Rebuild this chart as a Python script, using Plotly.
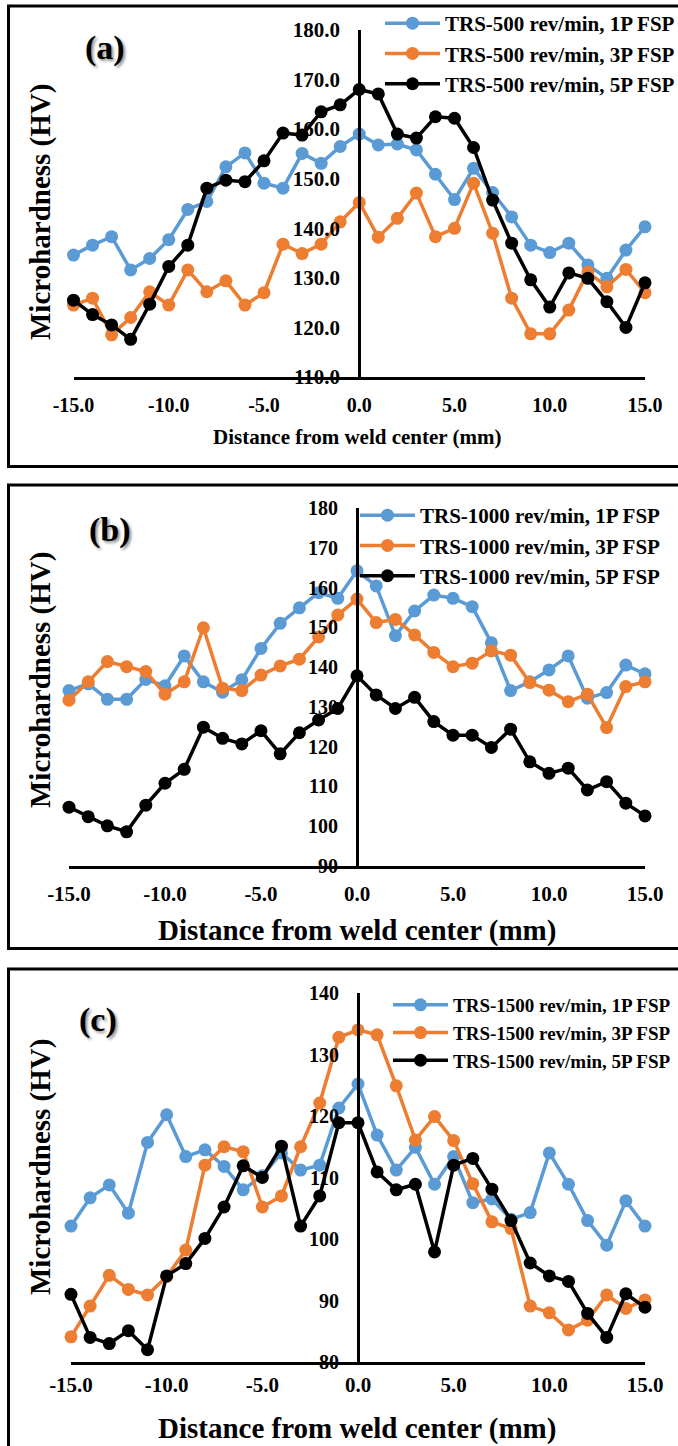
import plotly.graph_objects as go

W, H = 678, 1446

# ---------------- data ----------------
X_MM = [-15, -14, -13, -12, -11, -10, -9, -8, -7, -6, -5, -4, -3, -2, -1,
        0, 1, 2, 3, 4, 5, 6, 7, 8, 9, 10, 11, 12, 13, 14, 15]

A_1P = [134.6, 136.6, 138.3, 131.6, 133.9, 137.7, 143.8, 145.4, 152.4, 155.2, 149.1, 148.1, 155.1, 153.1, 156.5,
        159.0, 156.8, 157.0, 155.8, 150.9, 145.8, 152.1, 147.2, 142.3, 136.6, 135.1, 137.0, 132.6, 129.9, 135.6, 140.3]
A_3P = [124.5, 125.9, 118.5, 122.0, 127.2, 124.5, 131.6, 127.2, 129.4, 124.5, 127.0, 136.8, 134.9, 136.8, 141.3,
        145.2, 138.2, 142.0, 147.1, 138.3, 140.0, 149.1, 139.0, 125.9, 118.7, 118.7, 123.5, 131.2, 128.2, 131.7, 127.0]
A_5P = [125.5, 122.6, 120.5, 117.6, 124.7, 132.3, 136.6, 148.1, 149.7, 149.4, 153.6, 159.2, 158.8, 163.5, 164.9,
        168.0, 167.1, 159.0, 158.2, 162.5, 162.2, 156.3, 145.7, 137.0, 129.6, 124.1, 131.0, 129.9, 125.2, 120.0, 129.0]

B_1P = [134.1, 135.8, 131.9, 131.9, 136.9, 135.3, 142.8, 136.3, 133.7, 136.8, 144.7, 151.0, 154.9, 158.7, 157.3,
        164.2, 160.4, 147.9, 154.1, 158.1, 157.3, 155.2, 146.1, 134.1, 136.3, 139.3, 142.8, 132.2, 133.6, 140.5, 138.3]
B_3P = [131.7, 136.3, 141.4, 140.1, 138.9, 133.2, 136.3, 149.9, 134.7, 134.1, 138.0, 140.3, 142.0, 147.6, 153.1,
        157.1, 151.2, 152.0, 148.1, 143.7, 140.1, 141.0, 144.1, 143.0, 136.1, 134.2, 131.3, 133.2, 124.8, 135.1, 136.3]
B_5P = [104.8, 102.4, 100.1, 98.6, 105.3, 110.8, 114.3, 124.9, 122.1, 120.7, 124.0, 118.2, 123.5, 126.7, 129.6,
        137.8, 133.0, 129.6, 132.4, 126.3, 122.9, 122.9, 119.8, 124.4, 116.2, 113.3, 114.6, 109.1, 111.2, 105.8, 102.6]

C_1P = [102.1, 106.7, 108.8, 104.2, 115.7, 120.2, 113.4, 114.5, 111.8, 108.0, 110.3, 114.0, 111.2, 112.0, 121.3,
        125.2, 116.9, 111.2, 114.9, 108.9, 113.4, 105.9, 106.5, 103.2, 104.3, 114.0, 108.9, 103.0, 99.0, 106.2, 102.1]
C_3P = [84.1, 89.1, 94.1, 91.8, 90.9, 93.9, 98.2, 112.0, 115.0, 114.2, 105.2, 107.0, 115.0, 122.1, 132.8,
        134.0, 133.2, 124.9, 116.1, 119.9, 116.0, 109.0, 102.8, 101.7, 89.1, 88.0, 85.2, 86.8, 90.9, 88.7, 90.1]
C_5P = [91.0, 84.0, 83.0, 85.1, 82.0, 94.0, 96.0, 100.1, 105.2, 111.9, 110.0, 115.1, 102.1, 107.0, 118.9,
        118.9, 110.9, 108.0, 108.9, 97.9, 112.0, 113.1, 108.1, 103.0, 96.1, 94.0, 93.1, 87.9, 84.0, 91.1, 88.9]

X_TICKVALS = [-15, -10, -5, 0, 5, 10, 15]
X_TICKTEXT = ["-15.0", "-10.0", "-5.0", "0.0", "5.0", "10.0", "15.0"]

PANEL_LABELS = ["(a)", "(b)", "(c)"]
SPEEDS = ["500", "1000", "1500"]
PASSES = ["1P", "3P", "5P"]
Y_RANGES = [[110, 180], [90, 180], [80, 140]]
Y_FORMATS = [".1f", "d", "d"]
X_TITLE = "Distance from weld center (mm)"
Y_TITLE = "Microhardness (HV)"

COLORS = ["#5B9BD5", "#ED7D31", "#000000"]
FONT = "Liberation Serif"

# ---------------- layout geometry (pixels) ----------------
panels = [
    dict(series=[A_1P, A_3P, A_5P], x0=73.5, x1=645, ytop=30, ybot=377,
         ytick=21, xtick=20, xstand=8, xtitle=21, xtitle_y=437, leg_x=380, leg_y=3, leg_font=21,
         lab_x=105, lab_y=48, ytit_y=212, box=(6, 466.5)),
    dict(series=[B_1P, B_3P, B_5P], x0=69, x1=645, ytop=508, ybot=866,
         ytick=20, xtick=21, xstand=7, xtitle=29, xtitle_y=930, leg_x=355, leg_y=495, leg_font=21,
         lab_x=110, lab_y=530, ytit_y=680, box=(485, 948.5)),
    dict(series=[C_1P, C_3P, C_5P], x0=71, x1=645, ytop=993, ybot=1362,
         ytick=20, xtick=21, xstand=2, xtitle=29, xtitle_y=1428, leg_x=388, leg_y=986, leg_font=19,
         lab_x=98, lab_y=1020, ytit_y=1167, box=(969, 1460)),
]

fig = go.Figure()
layout = dict(width=W, height=H, margin=dict(l=0, r=0, t=0, b=0, autoexpand=False),
              paper_bgcolor="white", plot_bgcolor="white",
              font=dict(family=FONT, color="black", weight="bold"),
              shapes=[], annotations=[])

for i, p in enumerate(panels):
    sfx = "" if i == 0 else str(i + 1)
    xa, ya = "x" + sfx, "y" + sfx
    leg = "legend" + sfx
    for k, vals in enumerate(p["series"]):
        fig.add_trace(go.Scatter(
            x=X_MM, y=vals, xaxis=xa, yaxis=ya, mode="lines+markers",
            name=f"TRS-{SPEEDS[i]} rev/min, {PASSES[k]} FSP",
            line=dict(color=COLORS[k], width=3.5),
            marker=dict(color=COLORS[k], size=13),
            cliponaxis=False, legend=leg))
    xdom = [p["x0"] / W, p["x1"] / W]
    ydom = [1 - p["ybot"] / H, 1 - p["ytop"] / H]
    layout["xaxis" + sfx] = dict(
        domain=xdom, anchor=ya, range=[-15, 15],
        tickmode="array", tickvals=X_TICKVALS, ticktext=X_TICKTEXT,
        showline=True, linecolor="black", linewidth=3, showgrid=False, zeroline=False,
        ticks="", tickfont=dict(size=p["xtick"], family=FONT, weight="bold"),
        ticklabelstandoff=p["xstand"])
    layout["yaxis" + sfx] = dict(
        domain=ydom, anchor="free", position=(xdom[0] + xdom[1]) / 2,
        range=Y_RANGES[i], dtick=10, tickformat=Y_FORMATS[i],
        showline=True, linecolor="black", linewidth=3, showgrid=False, zeroline=False,
        ticks="", tickfont=dict(size=p["ytick"], family=FONT, weight="bold"),
        ticklabelstandoff=14)
    layout[leg] = dict(
        x=p["leg_x"] / W, y=1 - p["leg_y"] / H, xanchor="left", yanchor="top",
        bgcolor="rgba(0,0,0,0)", itemwidth=55, tracegroupgap=0,
        font=dict(size=p["leg_font"], family=FONT, weight="bold", color="black"))
    # panel border
    layout["shapes"].append(dict(type="rect", xref="paper", yref="paper",
                                 x0=8.5 / W, x1=1.02, y0=1 - p["box"][1] / H, y1=1 - p["box"][0] / H,
                                 line=dict(color="black", width=3), fillcolor="rgba(0,0,0,0)",
                                 layer="below"))
    # panel label
    layout["annotations"].append(dict(
        text=PANEL_LABELS[i], xref="paper", yref="paper", x=p["lab_x"] / W, y=1 - p["lab_y"] / H,
        xanchor="center", yanchor="middle", showarrow=False,
        font=dict(size=34, family=FONT, weight="bold", shadow="2px 2px 3px rgba(0,0,0,0.45)")))
    # x title
    layout["annotations"].append(dict(
        text=X_TITLE, xref="paper", yref="paper", x=357 / W, y=1 - p["xtitle_y"] / H,
        xanchor="center", yanchor="middle", showarrow=False,
        font=dict(size=p["xtitle"], family=FONT, weight="bold")))
    # y title
    layout["annotations"].append(dict(
        text=Y_TITLE, xref="paper", yref="paper", x=40 / W, y=1 - p["ytit_y"] / H,
        xanchor="center", yanchor="middle", showarrow=False, textangle=-90,
        font=dict(size=29, family=FONT, weight="bold")))

fig.update_layout(**layout)
fig.write_html("out.html")
